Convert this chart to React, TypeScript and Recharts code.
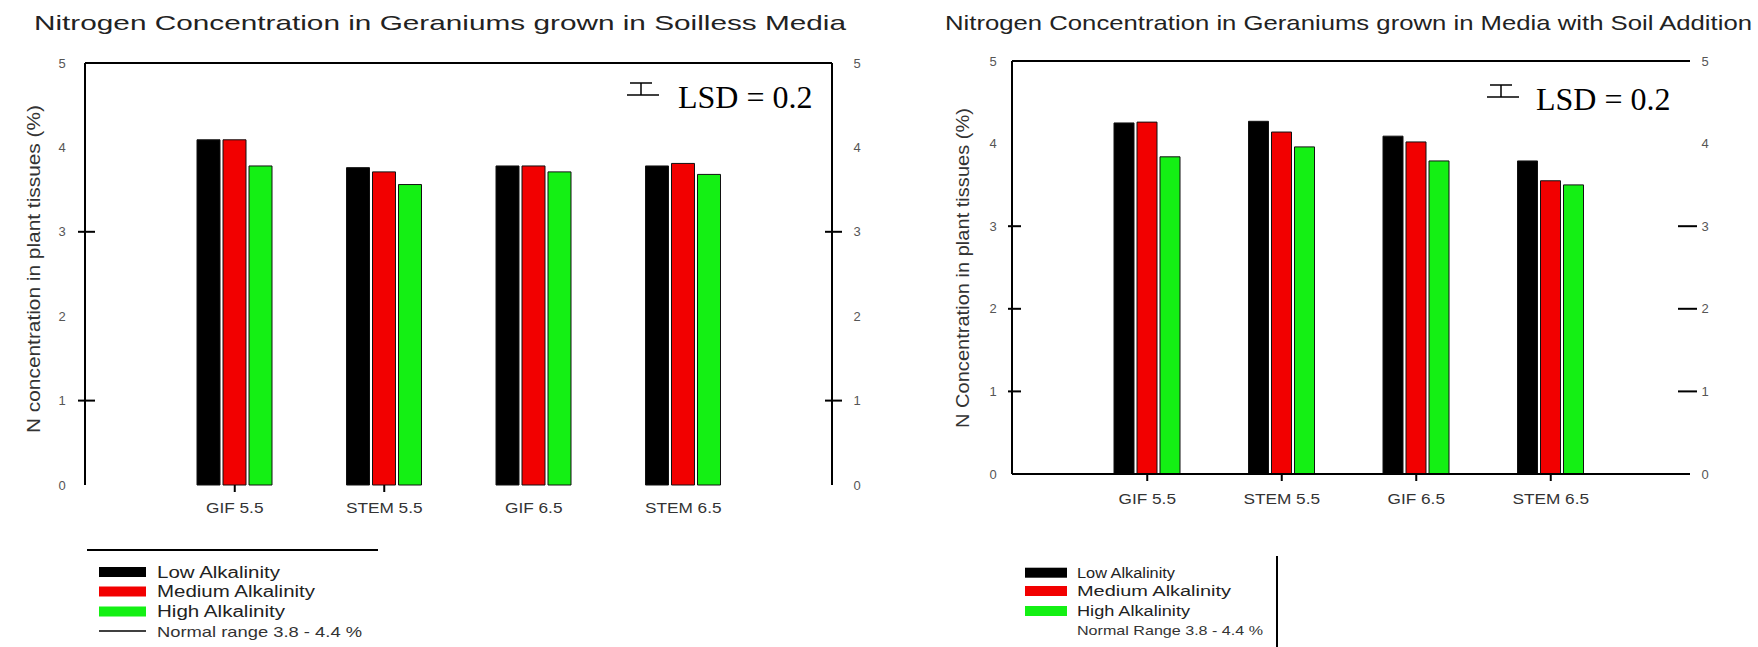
import React from 'react';
import { ComposedChart, Bar, Line, XAxis, YAxis, ReferenceLine } from 'recharts';

const categories = ['GIF 5.5', 'STEM 5.5', 'GIF 6.5', 'STEM 6.5'];
const seriesKeys = ['low', 'medium', 'high'];
const seriesNames = ['Low Alkalinity', 'Medium Alkalinity', 'High Alkalinity'];
const seriesColors = ['#000000', '#f20000', '#14f014'];
const yTicks = [0, 1, 2, 3, 4, 5];

const soillessLow = [4.09, 3.76, 3.78, 3.78];
const soillessMedium = [4.09, 3.71, 3.78, 3.81];
const soillessHigh = [3.78, 3.56, 3.71, 3.68];

const soilLow = [4.25, 4.27, 4.09, 3.79];
const soilMedium = [4.26, 4.14, 4.02, 3.55];
const soilHigh = [3.84, 3.96, 3.79, 3.5];

const leftTitle = 'Nitrogen Concentration in Geraniums grown in Soilless Media';
const rightTitle = 'Nitrogen Concentration in Geraniums grown in Media with Soil Addition';
const leftYTitle = 'N concentration in plant tissues (%)';
const rightYTitle = 'N Concentration in plant tissues (%)';
const lsdText = 'LSD = 0.2';
const leftNormal = 'Normal range 3.8 - 4.4 %';
const rightNormal = 'Normal Range 3.8 - 4.4 %';

const SANS = '"Liberation Sans", Arial, sans-serif';
const SERIF = '"Liberation Serif", "Times New Roman", serif';

const buildRows = (low: number[], med: number[], high: number[]) =>
  categories.map((c, i) => ({ category: c, low: low[i], medium: med[i], high: high[i] }));

const soillessRows = buildRows(soillessLow, soillessMedium, soillessHigh);
const soilRows = buildRows(soilLow, soilMedium, soilHigh);

const makeYTick = (cfg: { marks: number[]; from: number; to: number; dx: number }) => (props: any) => {
  const { x, y, payload } = props;
  const v = payload.value;
  return (
    <g>
      {cfg.marks.includes(v) && (
        <line x1={x + cfg.from} x2={x + cfg.to} y1={y} y2={y} stroke="#000" strokeWidth={2} />
      )}
      <text
        x={x + cfg.dx}
        y={y}
        textAnchor="middle"
        dominantBaseline="central"
        fontSize={13}
        fill="#555"
        fontFamily={SANS}
      >
        {v}
      </text>
    </g>
  );
};

const makeXTick = (cfg: { marks: number[]; dy: number }) => (props: any) => {
  const { x, y, payload, index } = props;
  const idx = typeof index === 'number' ? index : payload.index;
  return (
    <g>
      {cfg.marks.includes(idx) && <line x1={x} x2={x} y1={y} y2={y + 7} stroke="#000" strokeWidth={2} />}
      <text
        transform={`translate(${x},${y + cfg.dy}) scale(1.15,1)`}
        textAnchor="middle"
        dominantBaseline="central"
        fontSize={15}
        fill="#333"
        fontFamily={SANS}
      >
        {payload.value}
      </text>
    </g>
  );
};

type TickCfg = { marks: number[]; from: number; to: number; dx: number };
type PanelProps = {
  rows: any[];
  width: number;
  margin: { top: number; right: number; bottom: number; left: number };
  padding: { left: number; right: number };
  barSize: number;
  xAxisLine: boolean;
  xMarks: number[];
  xDy: number;
  leftTick: TickCfg;
  rightTick: TickCfg;
  rightAxisLine: boolean;
};

const Panel = (p: PanelProps) => (
  <ComposedChart width={p.width} height={647} data={p.rows} margin={p.margin} barGap={3} barSize={p.barSize}>
    <XAxis
      dataKey="category"
      height={30}
      padding={p.padding}
      axisLine={p.xAxisLine ? { stroke: '#000', strokeWidth: 2 } : false}
      tickLine={false}
      tickSize={0}
      tickMargin={0}
      interval={0}
      tick={makeXTick({ marks: p.xMarks, dy: p.xDy })}
    />
    <YAxis
      yAxisId="left"
      orientation="left"
      width={40}
      domain={[0, 5]}
      ticks={yTicks}
      interval={0}
      axisLine={{ stroke: '#000', strokeWidth: 2 }}
      tickLine={false}
      tickSize={0}
      tickMargin={0}
      tick={makeYTick(p.leftTick)}
    />
    <YAxis
      yAxisId="right"
      orientation="right"
      width={40}
      domain={[0, 5]}
      ticks={yTicks}
      interval={0}
      axisLine={p.rightAxisLine ? { stroke: '#000', strokeWidth: 2 } : false}
      tickLine={false}
      tickSize={0}
      tickMargin={0}
      tick={makeYTick(p.rightTick)}
    />
    <ReferenceLine yAxisId="left" y={5} stroke="#000" strokeWidth={2} />
    {seriesKeys.map((k, i) => (
      <Bar
        key={k}
        yAxisId="left"
        dataKey={k}
        name={seriesNames[i]}
        fill={seriesColors[i]}
        stroke="#111"
        strokeWidth={1}
        isAnimationActive={false}
      />
    ))}
    <Line
      yAxisId="right"
      dataKey="low"
      stroke="none"
      strokeWidth={0}
      dot={false}
      activeDot={false}
      legendType="none"
      isAnimationActive={false}
    />
  </ComposedChart>
);

const LsdMark = ({ x, y, tx, ty }: { x: number; y: number; tx: number; ty: number }) => (
  <g>
    <line x1={x + 3} x2={x + 25} y1={y} y2={y} stroke="#000" strokeWidth={1.5} />
    <line x1={x + 14} x2={x + 14} y1={y} y2={y + 12} stroke="#000" strokeWidth={1.5} />
    <line x1={x} x2={x + 32} y1={y + 12} y2={y + 12} stroke="#000" strokeWidth={1.5} />
    <text x={tx} y={ty} fontSize={32} fontFamily={SERIF} fill="#000">
      {lsdText}
    </text>
  </g>
);

const LegendBlock = (cfg: {
  x: number;
  sw: number;
  tx: number;
  rows: number[];
  lens: number[];
  fontSize: number;
  normal: string;
  normalLine: boolean;
}) => (
  <g>
    {seriesNames.map((n, i) => (
      <g key={n}>
        <rect x={cfg.x} y={cfg.rows[i] - 5} width={cfg.sw} height={10} fill={seriesColors[i]} />
        <text
          x={cfg.tx}
          y={cfg.rows[i]}
          dominantBaseline="central"
          fontSize={cfg.fontSize}
          fontFamily={SANS}
          fill="#222"
          textLength={cfg.lens[i]}
          lengthAdjust="spacingAndGlyphs"
        >
          {n}
        </text>
      </g>
    ))}
    {cfg.normalLine && (
      <line x1={cfg.x} x2={cfg.x + cfg.sw} y1={cfg.rows[3]} y2={cfg.rows[3]} stroke="#000" strokeWidth={1.5} />
    )}
    <text
      x={cfg.tx}
      y={cfg.rows[3]}
      dominantBaseline="central"
      fontSize={cfg.fontSize - 1}
      fontFamily={SANS}
      fill="#333"
      textLength={cfg.lens[3]}
      lengthAdjust="spacingAndGlyphs"
    >
      {cfg.normal}
    </text>
  </g>
);

export default function App() {
  return (
    <div style={{ position: 'absolute', left: 0, top: 0, width: 1758, height: 647, background: '#fff', overflow: 'hidden' }}>
      <div style={{ position: 'absolute', left: 0, top: 0 }}>
        <Panel
          rows={soillessRows}
          width={900}
          margin={{ top: 63, right: 28, bottom: 132, left: 45 }}
          padding={{ left: 75, right: 74 }}
          barSize={23}
          xAxisLine={false}
          xMarks={[0, 1]}
          xDy={22}
          leftTick={{ marks: [1, 3], from: -7, to: 10, dx: -23 }}
          rightTick={{ marks: [1, 3], from: -7, to: 10, dx: 25 }}
          rightAxisLine={true}
        />
      </div>
      <div style={{ position: 'absolute', left: 900, top: 0 }}>
        <Panel
          rows={soilRows}
          width={858}
          margin={{ top: 61, right: 28, bottom: 143, left: 72 }}
          padding={{ left: 68, right: 72 }}
          barSize={20}
          xAxisLine={true}
          xMarks={[0, 1, 2, 3]}
          xDy={24}
          leftTick={{ marks: [1, 2, 3], from: -4, to: 9, dx: -19 }}
          rightTick={{ marks: [1, 2, 3], from: -12, to: 7, dx: 15 }}
          rightAxisLine={false}
        />
      </div>
      <svg
        width={1758}
        height={647}
        style={{ position: 'absolute', left: 0, top: 0, pointerEvents: 'none' }}
      >
        <text x={34} y={22} dominantBaseline="central" fontSize={21} fontFamily={SANS} fill="#222" textLength={812} lengthAdjust="spacingAndGlyphs">
          {leftTitle}
        </text>
        <text x={945} y={22} dominantBaseline="central" fontSize={21} fontFamily={SANS} fill="#222" textLength={807} lengthAdjust="spacingAndGlyphs">
          {rightTitle}
        </text>
        <text transform="translate(34,269) rotate(-90)" textAnchor="middle" dominantBaseline="central" fontSize={18} fontFamily={SANS} fill="#333" textLength={328} lengthAdjust="spacingAndGlyphs">
          {leftYTitle}
        </text>
        <text transform="translate(963,268) rotate(-90)" textAnchor="middle" dominantBaseline="central" fontSize={18} fontFamily={SANS} fill="#333" textLength={320} lengthAdjust="spacingAndGlyphs">
          {rightYTitle}
        </text>
        <LsdMark x={627} y={83} tx={678} ty={108} />
        <LsdMark x={1487} y={85} tx={1536} ty={110} />
        <line x1={87} x2={378} y1={550} y2={550} stroke="#000" strokeWidth={2} />
        <LegendBlock x={99} sw={47} tx={157} rows={[572, 591.5, 611.5, 631]} lens={[123, 158, 128, 205]} fontSize={16} normal={leftNormal} normalLine={true} />
        <LegendBlock x={1025} sw={42} tx={1077} rows={[572.7, 591, 611, 630]} lens={[98, 154, 113, 186]} fontSize={14} normal={rightNormal} normalLine={false} />
        <line x1={1277} x2={1277} y1={556} y2={647} stroke="#000" strokeWidth={2} />
      </svg>
    </div>
  );
}
